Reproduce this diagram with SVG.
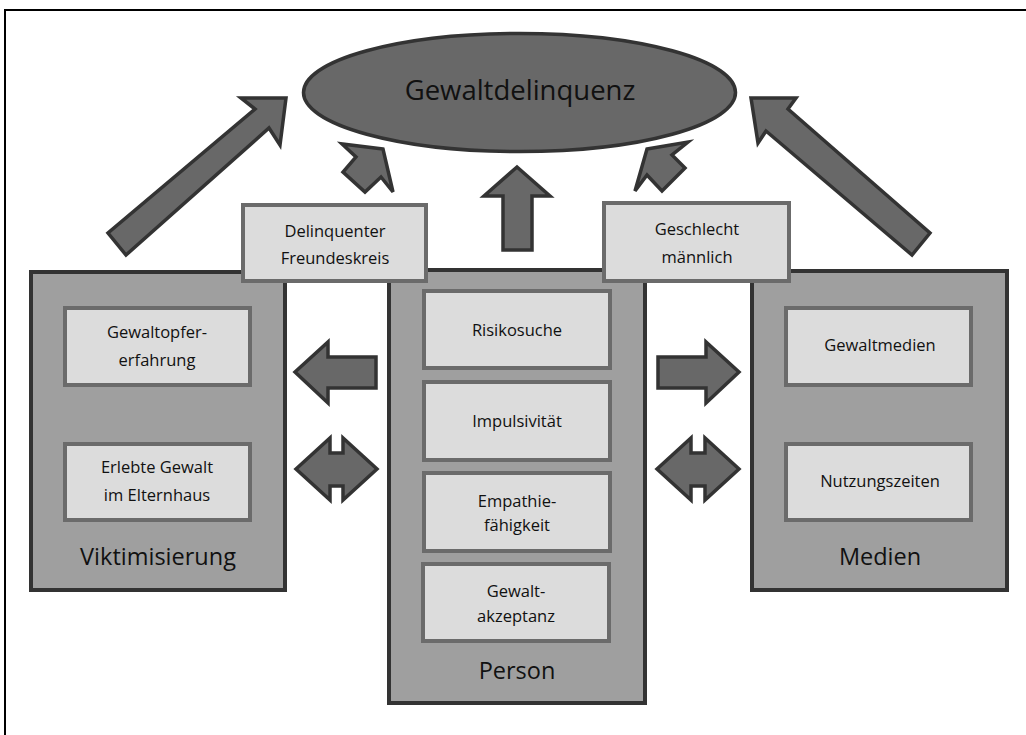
<svg xmlns="http://www.w3.org/2000/svg" width="1026" height="735" viewBox="0 0 1026 735">
<style>
.frame{fill:#fff;stroke:#000;stroke-width:2}
.big{fill:#9f9f9f;stroke:#333;stroke-width:4}
.inner{fill:#dcdcdc;stroke:#6b6b6b;stroke-width:4}
.arr{fill:#686868;stroke:#333;stroke-width:3.5;stroke-linejoin:miter}
.t{font-family:"Open Sans","Noto Sans",sans-serif;fill:#111;text-anchor:middle}
.s{font-size:16.5px}
.l{font-size:23.5px}
.h{font-size:27.5px}
</style>
<rect class="frame" x="5" y="10" width="1030" height="740"/>
<g id="viktimisierung">
<rect class="big" x="31" y="272" width="254" height="318"/>
<text class="t l" x="158" y="565">Viktimisierung</text>
</g>
<g id="person">
<rect class="big" x="389" y="270" width="256" height="433"/>
<text class="t l" x="517" y="679">Person</text>
</g>
<g id="medien">
<rect class="big" x="752" y="271" width="255" height="319"/>
<text class="t l" x="880" y="565">Medien</text>
</g>
<g id="gewaltopfer">
<rect class="inner" x="65" y="308" width="185" height="77"/>
<text class="t s" x="157" y="338">Gewaltopfer-</text>
<text class="t s" x="157" y="366">erfahrung</text>
</g>
<g id="elternhaus">
<rect class="inner" x="65" y="444" width="185" height="76"/>
<text class="t s" x="157" y="473">Erlebte Gewalt</text>
<text class="t s" x="157" y="501">im Elternhaus</text>
</g>
<g id="risikosuche">
<rect class="inner" x="424" y="291" width="186" height="77"/>
<text class="t s" x="517" y="336">Risikosuche</text>
</g>
<g id="impulsivitaet">
<rect class="inner" x="424" y="382" width="186" height="78"/>
<text class="t s" x="517" y="427">Impulsivität</text>
</g>
<g id="empathie">
<rect class="inner" x="424" y="473" width="186" height="78"/>
<text class="t s" x="517" y="507">Empathie-</text>
<text class="t s" x="517" y="531">fähigkeit</text>
</g>
<g id="gewaltakzeptanz">
<rect class="inner" x="423" y="564" width="186" height="77"/>
<text class="t s" x="516" y="597">Gewalt-</text>
<text class="t s" x="516" y="622">akzeptanz</text>
</g>
<g id="gewaltmedien">
<rect class="inner" x="786" y="308" width="185" height="77"/>
<text class="t s" x="880" y="351">Gewaltmedien</text>
</g>
<g id="nutzungszeiten">
<rect class="inner" x="786" y="444" width="185" height="76"/>
<text class="t s" x="880" y="487">Nutzungszeiten</text>
</g>
<g id="freundeskreis">
<rect class="inner" x="243" y="205" width="183" height="76"/>
<text class="t s" x="335" y="237">Delinquenter</text>
<text class="t s" x="335" y="264">Freundeskreis</text>
</g>
<g id="geschlecht">
<rect class="inner" x="604" y="203" width="185" height="78"/>
<text class="t s" x="697" y="235">Geschlecht</text>
<text class="t s" x="697" y="263">männlich</text>
</g>
<g id="gewaltdelinquenz">
<ellipse cx="519.5" cy="92.5" rx="216" ry="59" fill="#686868" stroke="#333" stroke-width="3.5"/>
<text class="t h" x="520" y="100">Gewaltdelinquenz</text>
</g>
<g id="connectors">
<polygon class="arr" points="286,98 241,98 255,109 108,233 126,255 269,128 280,145"/>
<polygon class="arr" points="751,98 796,98 788,109 930,233 912,255 766,131 758,143"/>
<polygon class="arr" points="383,149 342,144 356,157 343,172 365,192 381,177 393,192"/>
<polygon class="arr" points="647,149 688,142 672,155 685,168 662,191 647,175 635,191"/>
<polygon class="arr" points="517,167 484,196 503,196 503,250 532,250 532,196 550,196"/>
<polygon class="arr" points="295,372 328,342 328,357 376,357 376,388 328,388 328,403"/>
<polygon class="arr" points="739,372 706,342 706,357 658,357 658,388 706,388 706,403"/>
<polygon class="arr" points="296,469 330,438 330,453 343,453 343,438 377,469 343,500 343,486 330,486 330,500"/>
<polygon class="arr" points="657,469 691,438 691,453 705,453 705,438 739,469 705,500 705,486 691,486 691,500"/>
</g>
</svg>
